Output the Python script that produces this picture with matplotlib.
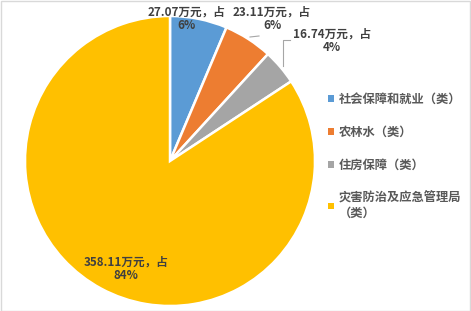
import matplotlib.pyplot as plt
from matplotlib.patches import Rectangle

plt.rcParams['font.family'] = ['Noto Sans CJK SC', 'DejaVu Sans']

categories = ["社会保障和就业（类）", "农林水（类）", "住房保障（类）", "灾害防治及应急管理局\n（类）"]
amounts = [27.07, 23.11, 16.74, 358.11]
percents = ["6%", "6%", "4%", "84%"]
colors = ["#5B9BD5", "#ED7D31", "#A5A5A5", "#FFC000"]

W, H = 471, 311
fig = plt.figure(figsize=(W / 100, H / 100), dpi=100)

# pie centre (170, 161) px, radius 145 px
cx, cy, r = 170, 161, 145
ax = fig.add_axes([(cx - r) / W, (H - cy - r) / H, 2 * r / W, 2 * r / H])
wedges, _ = ax.pie(amounts, colors=colors, startangle=90, counterclock=False,
                   radius=1, wedgeprops=dict(edgecolor="white", linewidth=1.8))
ax.set_xlim(-1, 1)
ax.set_ylim(-1, 1)
ax.set_aspect("equal")


def px(x, y):
    return ((x - cx) / r, (cy - y) / r)


label_pos = [(187, 19), (272, 19), (332, 41), (126, 269)]
for amt, pct, pos in zip(amounts, percents, label_pos):
    ax.text(*px(*pos), f"{amt:.2f}万元，占\n{pct}", ha="center", va="center",
            fontsize=8.4, fontweight="bold", color="#404040", linespacing=1.05)

# leader lines
ax.plot(*zip(px(290, 40), px(283, 40), px(283, 66)), color="#A6A6A6", lw=0.8,
        clip_on=False)
ax.plot(*zip(px(250, 37), px(259, 36)), color="#A6A6A6", lw=0.8, clip_on=False)

leg = fig.legend(wedges, categories, loc="upper left",
                 bbox_to_anchor=(317 / W, 1 - 82 / H), frameon=False,
                 handlelength=0.45, handleheight=0.45, handletextpad=0.45,
                 labelspacing=1.62, prop=dict(size=8.8, weight="bold"))
for t in leg.get_texts():
    t.set_color("#595959")
for h in leg.legend_handles:
    h.set_edgecolor("none")

fig.patches.append(Rectangle((0.5 / W, 0.5 / H), 1 - 1.5 / W, 1 - 1.5 / H,
                             transform=fig.transFigure, fill=False,
                             edgecolor="#D9D9D9", lw=1))

fig.savefig("out.png", dpi=100)
